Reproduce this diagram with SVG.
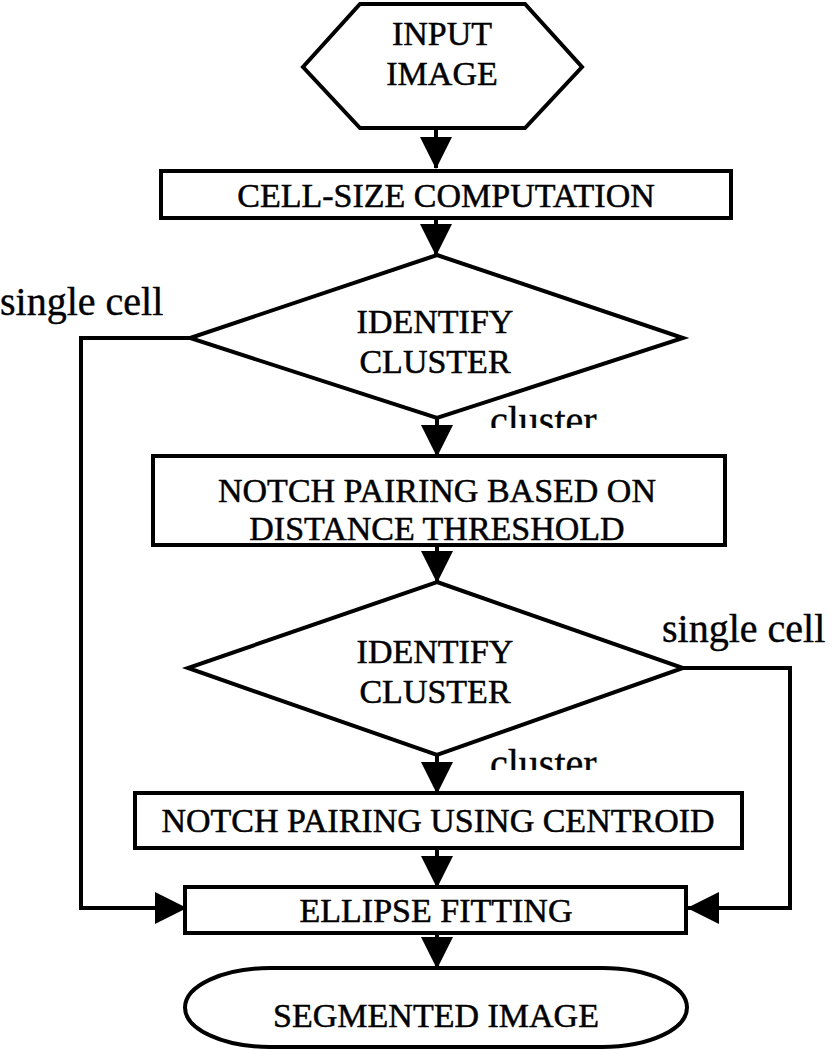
<svg xmlns="http://www.w3.org/2000/svg" width="839" height="1050" viewBox="0 0 839 1050">
<style>
.s{fill:#fff;stroke:#000;stroke-width:4;stroke-linejoin:miter}
.t{font-size:34px;fill:#000;stroke:#000;stroke-width:0.5;text-anchor:middle}
.l{font-size:40px;fill:#000;stroke:#000;stroke-width:0.4}
.c{fill:none;stroke:#000;stroke-width:4}
</style>
<defs>
<marker id="ah" markerWidth="32" markerHeight="32" viewBox="0 0 32 32" refX="31" refY="16" orient="auto" markerUnits="userSpaceOnUse">
<path d="M0,0 L32,16 L0,32 Z" fill="#000"/>
</marker>
<clipPath id="cl1"><rect x="480" y="395" width="140" height="33"/></clipPath>
<clipPath id="cl2"><rect x="480" y="735" width="140" height="35"/></clipPath>
</defs>
<rect width="839" height="1050" fill="#fff"/>
<g id="connectors">
<path class="c" d="M436,128 V168" marker-end="url(#ah)"/>
<path class="c" d="M436,218 V255" marker-end="url(#ah)"/>
<path class="c" d="M437,418 V456" marker-end="url(#ah)"/>
<path class="c" d="M437,545 V582" marker-end="url(#ah)"/>
<path class="c" d="M437,755 V793" marker-end="url(#ah)"/>
<path class="c" d="M437,848 V887" marker-end="url(#ah)"/>
<path class="c" d="M437,933 V968" marker-end="url(#ah)"/>
<path class="c" d="M190,338 H81 V908 H186" marker-end="url(#ah)"/>
<path class="c" d="M683,668 H790 V908 H688" marker-end="url(#ah)"/>
</g>
<g font-family="'Liberation Serif', 'Times New Roman', 'DejaVu Serif', serif">
<g id="input">
<polygon class="s" points="360,4 525,4 582,67 525,128 360,128 303,67"/>
<text class="t" x="442" y="45">INPUT</text>
<text class="t" x="442" y="85">IMAGE</text>
</g>
<g id="cellsize">
<rect class="s" x="161" y="171" width="570" height="47"/>
<text class="t" x="446" y="207">CELL-SIZE COMPUTATION</text>
</g>
<g id="decision1">
<polygon class="s" points="437,255 683,338 437,418 190,338"/>
<text class="t" x="435" y="333">IDENTIFY</text>
<text class="t" x="435" y="373">CLUSTER</text>
<text class="l" x="0" y="315">single cell</text>
<text class="l" x="490" y="434" clip-path="url(#cl1)">cluster</text>
</g>
<g id="notch1">
<rect class="s" x="153" y="456" width="572" height="89"/>
<text class="t" x="437" y="502">NOTCH PAIRING BASED ON</text>
<text class="t" x="437" y="540">DISTANCE THRESHOLD</text>
</g>
<g id="decision2">
<polygon class="s" points="437,582 683,668 437,755 188,668"/>
<text class="t" x="435" y="663">IDENTIFY</text>
<text class="t" x="435" y="703">CLUSTER</text>
<text class="l" x="662" y="642">single cell</text>
<text class="l" x="490" y="777" clip-path="url(#cl2)">cluster</text>
</g>
<g id="notch2">
<rect class="s" x="135" y="793" width="607" height="55"/>
<text class="t" x="438" y="832">NOTCH PAIRING USING CENTROID</text>
</g>
<g id="ellipse">
<rect class="s" x="185" y="887" width="501" height="46"/>
<text class="t" x="436" y="922">ELLIPSE FITTING</text>
</g>
<g id="segmented">
<path class="s" d="M270,968 H602 A85,39.5 0 0 1 602,1047 H270 A85,39.5 0 0 1 270,968 Z"/>
<text class="t" x="436" y="1027">SEGMENTED IMAGE</text>
</g>
</g>
</svg>
